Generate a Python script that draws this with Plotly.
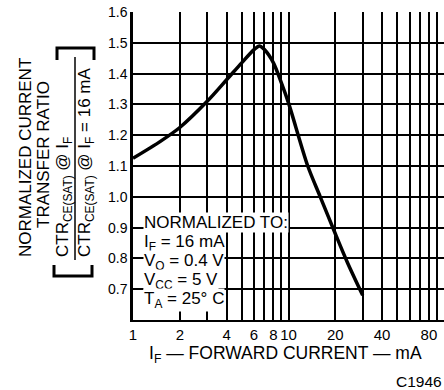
import plotly.graph_objects as go

# ---- data ----
if_ma = [1, 1.5, 2, 3, 4, 5, 6, 6.5, 7, 8, 9, 10, 13.3, 16, 20, 24, 30]
ctr_norm = [1.125, 1.18, 1.225, 1.31, 1.38, 1.435, 1.478, 1.49, 1.478, 1.435,
            1.37, 1.305, 1.10, 1.0, 0.88, 0.785, 0.68]

x_grid = [1, 2, 3, 4, 5, 6, 7, 8, 9, 10, 20, 30, 40, 50, 60, 70, 80, 90, 100]
x_labels = ["1", "2", "", "4", "", "6", "", "8", "", "10", "20", "", "40", "", "", "", "80", "", ""]
y_grid = [0.6, 0.7, 0.8, 0.9, 1.0, 1.1, 1.2, 1.3, 1.4, 1.5, 1.6]
y_labels = ["", "0.7", "0.8", "0.9", "1.0", "1.1", "1.2", "1.3", "1.4", "1.5", "1.6"]

note_lines = ["NORMALIZED TO:", "I<sub>F</sub> = 16 mA", "V<sub>O</sub> = 0.4 V",
              "V<sub>CC</sub> = 5 V", "T<sub>A</sub> = 25° C"]

W, H = 444, 390
L, R, T, B = 133, 0, 12, 70
PW, PH = W - L - R, H - T - B


def px(x):
    return (x - L) / PW


def py(y):
    return (H - B - y) / PH


FONT = "Liberation Sans, Arial, sans-serif"

fig = go.Figure()
fig.add_trace(go.Scatter(x=if_ma, y=ctr_norm, mode="lines",
                         line=dict(color="black", width=3.5, shape="spline", smoothing=0.8),
                         showlegend=False, hoverinfo="skip"))

fig.update_layout(
    width=W, height=H,
    margin=dict(l=L, r=R, t=T, b=B),
    paper_bgcolor="white", plot_bgcolor="white",
    font=dict(family=FONT, color="black"),
    xaxis=dict(type="log", range=[0, 2], tickvals=x_grid, ticktext=x_labels,
               showgrid=True, gridcolor="black", gridwidth=1.5,
               showline=True, linecolor="black", linewidth=2, ticks="",
               tickfont=dict(size=15, family=FONT), zeroline=False,
               ticklabeloverflow="allow"),
    yaxis=dict(range=[0.6, 1.6], tickvals=y_grid, ticktext=y_labels,
               showgrid=True, gridcolor="black", gridwidth=1.5,
               showline=True, linecolor="black", linewidth=2.5, ticks="",
               tickfont=dict(size=14, family=FONT), zeroline=False),
)

# Note box lines (white background hides grid behind text)
note_y = [222, 243, 262, 281, 300]
for txt, yy in zip(note_lines, note_y):
    fig.add_annotation(text=txt, xref="paper", yref="paper", x=px(143), y=py(yy),
                       xanchor="left", yanchor="middle", showarrow=False,
                       bgcolor="white", borderpad=0,
                       font=dict(size=17, family=FONT, color="black"))

# X title
fig.add_annotation(text="I<sub>F</sub> — FORWARD CURRENT — mA", xref="paper", yref="paper",
                   x=px(285), y=py(355), xanchor="center", yanchor="middle",
                   showarrow=False, font=dict(size=17.5, family=FONT))
fig.add_annotation(text="C1946", xref="paper", yref="paper", x=px(444), y=py(381),
                   xanchor="right", yanchor="middle", showarrow=False,
                   font=dict(size=15.5, family=FONT))

# Y title (rotated)
fig.add_annotation(text="NORMALIZED CURRENT", xref="paper", yref="paper",
                   x=px(25), y=py(157), textangle=-90, xanchor="center", yanchor="middle",
                   showarrow=False, font=dict(size=17, family=FONT))
fig.add_annotation(text="TRANSFER RATIO", xref="paper", yref="paper",
                   x=px(43), y=py(155), textangle=-90, xanchor="center", yanchor="middle",
                   showarrow=False, font=dict(size=17, family=FONT))
fig.add_annotation(text="CTR<sub>CE(SAT)</sub> @ I<sub>F</sub>", xref="paper", yref="paper",
                   x=px(64), y=py(259), textangle=-90, xanchor="center", yanchor="bottom",
                   showarrow=False, font=dict(size=17, family=FONT))
fig.add_annotation(text="CTR<sub>CE(SAT)</sub> @ I<sub>F</sub> = 16 mA", xref="paper", yref="paper",
                   x=px(86), y=py(259), textangle=-90, xanchor="center", yanchor="bottom",
                   showarrow=False, font=dict(size=17, family=FONT))

# fraction bar
fig.add_shape(type="line", xref="paper", yref="paper", x0=px(75), x1=px(75),
              y0=py(57), y1=py(260), line=dict(color="black", width=1.5))
# brackets
fig.add_shape(type="path", xref="paper", yref="paper",
              path=f"M {px(54)} {py(265)} L {px(54)} {py(276)} L {px(92)} {py(276)} L {px(92)} {py(265)}",
              line=dict(color="black", width=3))
fig.add_shape(type="path", xref="paper", yref="paper",
              path=f"M {px(57)} {py(60)} L {px(57)} {py(48)} L {px(94)} {py(48)} L {px(94)} {py(60)}",
              line=dict(color="black", width=3))

fig.write_html("out.html", config={"displayModeBar": False},
               post_script="document.body.style.margin='0';")
